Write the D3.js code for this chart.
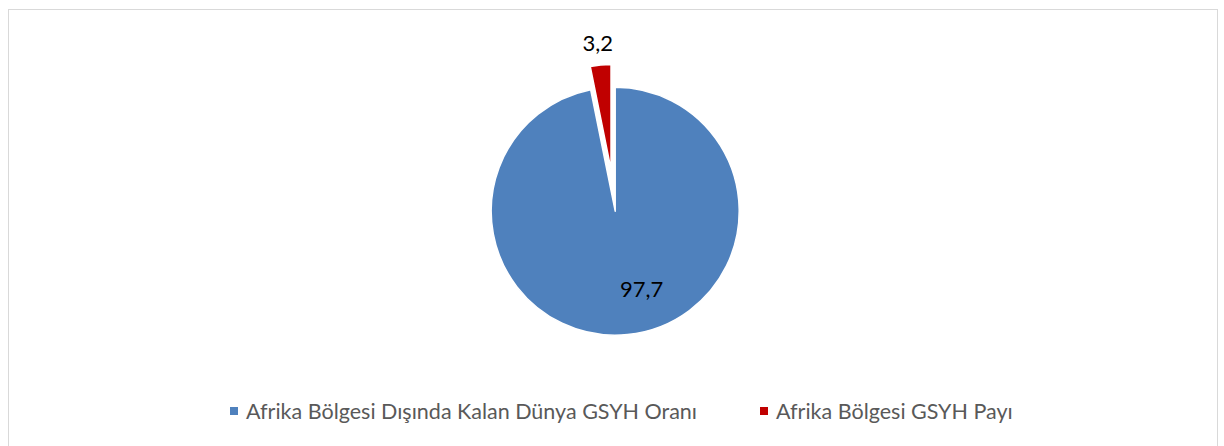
<!DOCTYPE html>
<html>
<head>
<meta charset="utf-8">
<script src="https://cdn.jsdelivr.net/npm/d3@7"></script>
<style>
  body { margin: 0; background: #fff; }
  svg { display: block; font-family: Lato, "Open Sans", sans-serif; }
</style>
</head>
<body>
<div id="chartDiv"></div>
<script>
var categories = ["Afrika Bölgesi Dışında Kalan Dünya GSYH Oranı", "Afrika Bölgesi GSYH Payı"];
var values = [97.7, 3.2];
var labels = ["97,7", "3,2"];
var colors = ["#4F81BD", "#C00000"];

;(function() {
	var width = 1224;
	var height = 446;
	var cx = 615.2, cy = 211.2;
	var radius = 124;
	var explodeDist = 42;
	var explodeRadius = 105;

	var svg = d3.select("#chartDiv").append("svg")
		.attr("width", width)
		.attr("height", height);

	// chart frame
	svg.append("rect")
		.attr("x", 8.5).attr("y", 9.5)
		.attr("width", 1209).attr("height", 460)
		.attr("fill", "none")
		.attr("stroke", "#d9d9d9")
		.attr("stroke-width", 1);

	var data = categories.map(function(c, i) {
		return { name: c, value: values[i], label: labels[i], color: colors[i] };
	});

	var pie = d3.pie().sort(null).value(function(d) { return d.value; });
	var arcs = pie(data);

	var plot = svg.append("g").attr("transform", "translate(" + cx + "," + cy + ")");

	arcs.forEach(function(a, i) {
		var mid = (a.startAngle + a.endAngle) / 2;
		var exploded = i === 1;
		var off = exploded ? explodeDist : 0;
		var r = exploded ? explodeRadius : radius;
		var dx = Math.sin(mid) * off, dy = -Math.cos(mid) * off;
		var arc = d3.arc().innerRadius(0).outerRadius(r);
		plot.append("path")
			.attr("d", arc(a))
			.attr("transform", "translate(" + dx + "," + dy + ")")
			.attr("fill", a.data.color)
			.attr("stroke", "#fff")
			.attr("stroke-width", 1.5)
			.attr("stroke-linejoin", "round");
	});

	// data labels
	plot.append("text")
		.attr("x", 26.5).attr("y", 86)
		.attr("text-anchor", "middle")
		.style("font-size", "22px")
		.attr("fill", "#000")
		.text(labels[0]);

	plot.append("text")
		.attr("x", -17.5).attr("y", -160)
		.attr("text-anchor", "middle")
		.style("font-size", "22px")
		.attr("fill", "#000")
		.text(labels[1]);

	// legend
	var legendX = [230, 760];
	var legend = svg.append("g");
	data.forEach(function(d, i) {
		legend.append("rect")
			.attr("x", legendX[i]).attr("y", 407)
			.attr("width", 8).attr("height", 8)
			.attr("fill", d.color);
		legend.append("text")
			.attr("x", legendX[i] + 16).attr("y", 419)
			.style("font-size", "21.5px")
			.attr("fill", "#595959")
			.text(d.name);
	});
})();
</script>
</body>
</html>
